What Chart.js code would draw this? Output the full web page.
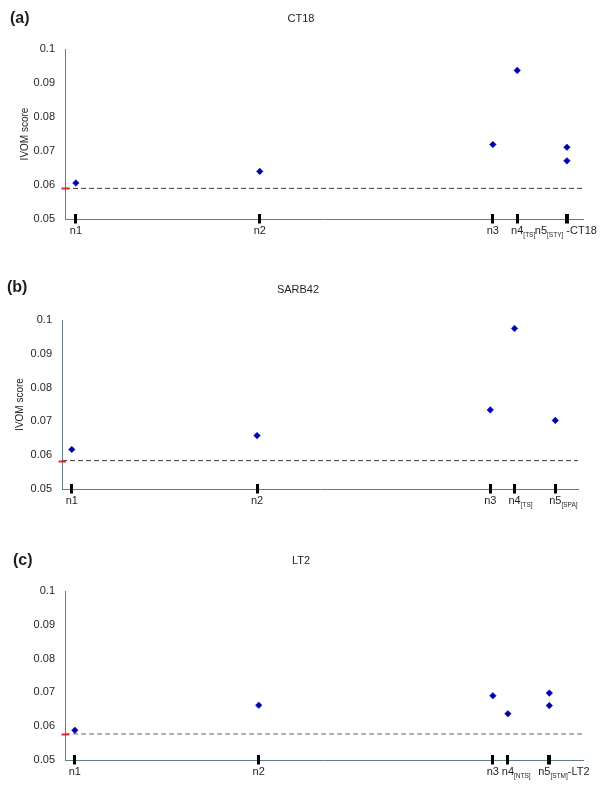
<!DOCTYPE html>
<html>
<head>
<meta charset="utf-8">
<script src="https://cdn.jsdelivr.net/npm/chart.js@4/dist/chart.umd.min.js"></script>
<style>
  html, body { margin: 0; padding: 0; background: #ffffff; }
  body { width: 600px; height: 788px; position: relative; overflow: hidden; }
  canvas { position: absolute; left: 0; }
</style>
</head>
<body>
<canvas id="chartA" width="600" height="245"></canvas>
<canvas id="chartB" width="600" height="275"></canvas>
<canvas id="chartC" width="600" height="268"></canvas>
<script>
// ---------- DATA ----------
const yTickValues = [0.05, 0.06, 0.07, 0.08, 0.09, 0.1];
const yTickLabels = ['0.05', '0.06', '0.07', '0.08', '0.09', '0.1'];
const yAxisTitle = 'IVOM score';

const panelLetters = ['(a)', '(b)', '(c)'];
const panelTitles = ['CT18', 'SARB42', 'LT2'];

// Panel (a) CT18
const aTickPos = [2.1, 37.6, 82.6, 87.3, 96.9];
const aTickMain = ['n1', 'n2', 'n3', 'n4', 'n5'];
const aTickSub = ['', '', '', '[TS]', '[STY]'];
const aTickSuffix = ['', '', '', '', '-CT18'];
const aPointX = [2.1, 37.6, 82.6, 87.3, 96.9, 96.9];
const aPointY = [0.0606, 0.0640, 0.0719, 0.0937, 0.0711, 0.0671];
const aThreshold = 0.0590;

// Panel (b) SARB42
const bTickPos = [1.9, 37.8, 83.0, 87.7, 95.6];
const bTickMain = ['n1', 'n2', 'n3', 'n4', 'n5'];
const bTickSub = ['', '', '', '[TS]', '[SPA]'];
const bTickSuffix = ['', '', '', '', ''];
const bPointX = [1.9, 37.8, 83.0, 87.7, 95.6];
const bPointY = [0.0617, 0.0658, 0.0734, 0.0975, 0.0703];
const bThreshold = 0.0584;

// Panel (c) LT2
const cTickPos = [1.9, 37.4, 82.6, 85.5, 93.5];
const cTickMain = ['n1', 'n2', 'n3', 'n4', 'n5'];
const cTickSub = ['', '', '', '[NTS]', '[STM]'];
const cTickSuffix = ['', '', '', '', '-LT2'];
const cPointX = [1.9, 37.4, 82.6, 85.5, 93.5, 93.5];
const cPointY = [0.0588, 0.0662, 0.0690, 0.0637, 0.0698, 0.0661];
const cThreshold = 0.0577;

const xMin = 0, xMax = 100;

// ---------- STYLE / LAYOUT ----------
const FONT = '"Liberation Sans", Arial, Helvetica, sans-serif';
const AXIS_COLOR = '#5f7d84';
const POINT_COLOR = '#0000b0';
const TEXT_COLOR = '#1e1e1e';

const panels = [
  { id: 'chartA', canvasTop: 0, canvasH: 245, left: 65, right: 583, top: 49, bottom: 219,
    letterX: 10, letterBase: 23, titleX: 301, titleBase: 21.7, yTitleX: 25, showYTitle: true,
    labelShift: [0, 0, 0, 0, -26], suffixGap: 3, tickW: [3, 3, 3, 3, 4], dashColor: '#3a3a3a',
    letter: panelLetters[0], title: panelTitles[0],
    tickPos: aTickPos, tickMain: aTickMain, tickSub: aTickSub, tickSuffix: aTickSuffix,
    px: aPointX, py: aPointY, threshold: aThreshold },
  { id: 'chartB', canvasTop: 245, canvasH: 275, left: 62, right: 578, top: 320, bottom: 489,
    letterX: 7, letterBase: 292, titleX: 298, titleBase: 293.3, yTitleX: 20, showYTitle: true,
    labelShift: [0, 0, 0, 0, 0], suffixGap: 0, tickW: [3, 3, 3, 3, 3], dashColor: '#3a3a3a',
    letter: panelLetters[1], title: panelTitles[1],
    tickPos: bTickPos, tickMain: bTickMain, tickSub: bTickSub, tickSuffix: bTickSuffix,
    px: bPointX, py: bPointY, threshold: bThreshold },
  { id: 'chartC', canvasTop: 520, canvasH: 268, left: 65, right: 583, top: 591, bottom: 760,
    letterX: 13, letterBase: 565, titleX: 301, titleBase: 564.3, yTitleX: 25, showYTitle: false,
    labelShift: [0, 0, 0, 0, -5], suffixGap: 0, tickW: [3, 3, 3, 3, 4], dashColor: '#666666',
    letter: panelLetters[2], title: panelTitles[2],
    tickPos: cTickPos, tickMain: cTickMain, tickSub: cTickSub, tickSuffix: cTickSuffix,
    px: cPointX, py: cPointY, threshold: cThreshold }
];

const X_AXIS_H = 20;

const decorPlugin = {
  id: 'decor',
  afterDraw(chart) {
    const p = chart.options.plugins.decor.panel;
    const ctx = chart.ctx;
    const xs = chart.scales.x, ys = chart.scales.y;
    const ca = chart.chartArea;
    const off = p.canvasTop;
    ctx.save();
    ctx.fillStyle = TEXT_COLOR;
    ctx.textBaseline = 'alphabetic';

    // panel letter
    ctx.font = 'bold 16px ' + FONT;
    ctx.textAlign = 'left';
    ctx.fillText(p.letter, p.letterX, p.letterBase - off);

    // title
    ctx.font = '11px ' + FONT;
    ctx.textAlign = 'center';
    ctx.fillText(p.title, p.titleX, p.titleBase - off);

    // y axis title
    if (p.showYTitle) {
      ctx.save();
      ctx.translate(p.yTitleX, (ca.top + ca.bottom) / 2);
      ctx.rotate(-Math.PI / 2);
      ctx.font = '10px ' + FONT;
      ctx.textAlign = 'center';
      ctx.textBaseline = 'middle';
      ctx.fillText(yAxisTitle, 0, 0);
      ctx.restore();
    }

    // red threshold marker on y axis
    const ty = Math.round(ys.getPixelForValue(p.threshold)) + 0.5;
    ctx.strokeStyle = '#e8242c';
    ctx.lineWidth = 2;
    ctx.beginPath();
    ctx.moveTo(ca.left - 3.5, ty);
    ctx.lineTo(ca.left + 4, ty);
    ctx.stroke();

    // tick bars and labels
    const base = ca.bottom;
    for (let i = 0; i < p.tickPos.length; i++) {
      const x = xs.getPixelForValue(p.tickPos[i]);
      const w = p.tickW[i];
      ctx.fillStyle = '#000000';
      ctx.fillRect(Math.round(x - w / 2), base - 5, w, 9.5);

      ctx.fillStyle = TEXT_COLOR;
      ctx.textAlign = 'left';
      ctx.font = '11px ' + FONT;
      const mw = ctx.measureText(p.tickMain[i]).width;
      let x0 = x - mw / 2 + p.labelShift[i];
      ctx.fillText(p.tickMain[i], x0, base + 15);
      let cx = x0 + mw;
      if (p.tickSub[i]) {
        ctx.font = '6.5px ' + FONT;
        ctx.fillText(p.tickSub[i], cx, base + 18);
        cx += ctx.measureText(p.tickSub[i]).width;
      }
      if (p.tickSuffix[i]) {
        ctx.font = '11px ' + FONT;
        ctx.fillText(p.tickSuffix[i], cx + p.suffixGap, base + 15);
      }
    }
    ctx.restore();
  }
};

panels.forEach(p => {
  const canvas = document.getElementById(p.id);
  canvas.style.top = p.canvasTop + 'px';
  canvas.width = 600;
  canvas.height = p.canvasH;
  canvas.style.width = '600px';
  canvas.style.height = p.canvasH + 'px';
  const padTop = p.top - p.canvasTop;
  const padBottom = p.canvasH - (p.bottom - p.canvasTop) - X_AXIS_H;

  new Chart(canvas, {
    type: 'scatter',
    data: {
      datasets: [
        {
          data: p.px.map((x, i) => ({ x: x, y: p.py[i] })),
          pointStyle: 'rectRot',
          pointRadius: 3.3,
          backgroundColor: POINT_COLOR,
          borderColor: POINT_COLOR,
          borderWidth: 0.5,
          order: 1
        },
        {
          data: [{ x: xMin, y: p.threshold }, { x: xMax, y: p.threshold }],
          showLine: true,
          pointRadius: 0,
          borderColor: p.dashColor,
          borderWidth: 1,
          borderDash: [5, 3],
          order: 2
        }
      ]
    },
    options: {
      responsive: false,
      maintainAspectRatio: false,
      devicePixelRatio: 1,
      animation: false,
      events: [],
      layout: { padding: { left: 0, right: 600 - p.right, top: padTop, bottom: padBottom } },
      plugins: {
        legend: { display: false },
        tooltip: { enabled: false },
        decor: { panel: p }
      },
      scales: {
        x: {
          type: 'linear',
          min: xMin,
          max: xMax,
          grid: { display: false, drawTicks: false },
          border: { display: true, color: AXIS_COLOR, width: 1 },
          ticks: { display: false },
          afterFit: s => { s.height = X_AXIS_H; }
        },
        y: {
          type: 'linear',
          min: 0.05,
          max: 0.1,
          grid: { display: false, drawTicks: false },
          border: { display: true, color: AXIS_COLOR, width: 1 },
          afterBuildTicks: s => { s.ticks = yTickValues.map(v => ({ value: v })); },
          ticks: {
            padding: 10,
            autoSkip: false,
            color: TEXT_COLOR,
            font: { family: FONT, size: 11 },
            callback: (v, i) => yTickLabels[i]
          },
          afterFit: s => { s.width = p.left; }
        }
      }
    },
    plugins: [decorPlugin]
  });
});
</script>
</body>
</html>
